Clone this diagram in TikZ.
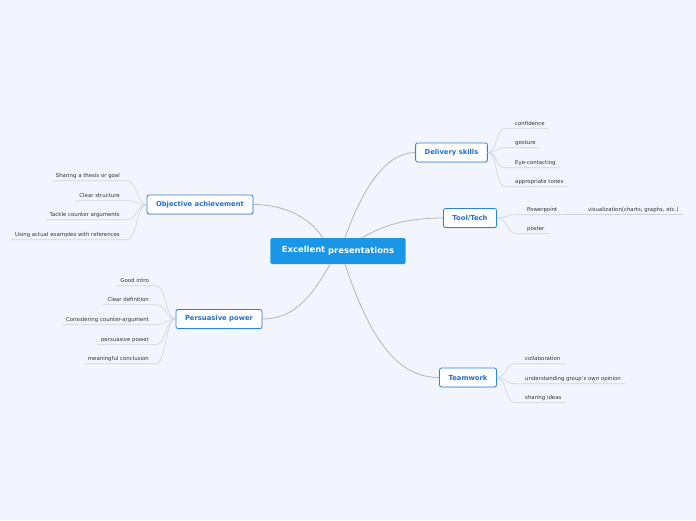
\documentclass[tikz,border=0pt]{standalone}
\usepackage{fontspec}
\setmainfont{DejaVu Sans}
\usetikzlibrary{shadows}

\definecolor{paper}{HTML}{F3F5FE}
\definecolor{hub}{HTML}{1A96E8}
\definecolor{rim}{HTML}{2A82DE}
\definecolor{ink}{HTML}{1F6FD2}
\definecolor{wire}{HTML}{B3B3BA}
\definecolor{twig}{HTML}{CFD2DB}

\begin{document}
\begin{tikzpicture}[x=1pt, y=-1pt,
    hubbox/.style={fill=hub, text=white, rounded corners=1.5pt, minimum height=26pt,
        inner xsep=11.5pt, font=\fontsize{8.4}{9}\selectfont\bfseries},
    branch/.style={draw=rim, line width=0.8pt, fill=white, text=ink, rounded corners=2pt,
        minimum height=19pt, inner xsep=9pt, font=\fontsize{6.8}{8}\selectfont\bfseries,
        drop shadow={shadow xshift=0.6pt, shadow yshift=-0.8pt, opacity=0.2}},
    leaf/.style={inner xsep=4pt, inner ysep=2.5pt, text height=4pt, text depth=1pt,
        text=black!80, font=\fontsize{5.4}{6}\selectfont},
    link/.style={draw=wire, line width=0.8pt},
    sprig/.style={draw=twig, line width=0.6pt}]

    % background and margins
    \fill[paper] (0,0) rectangle (696,520);
    \useasboundingbox (0,0) rectangle (696,520);

    % centre
    \node[hubbox] (ctr) at (338,251) {\raisebox{0.3pt}{Excellent} \raisebox{-0.5pt}{presentations}};

    % main topics
    \node[branch] (obj) at (200,204.5) {Objective achievement};
    \node[branch] (per) at (219,319) {Persuasive power};
    \node[branch] (del) at (451.5,152.5) {Delivery skills};
    \node[branch] (tool) at (470,218) {Tool/Tech};
    \node[branch] (team) at (468,377.5) {Teamwork};

    \draw[link] ([xshift=-15pt]ctr.north) .. controls (310,218) and (285,204.5) .. (obj.east);
    \draw[link] ([xshift=7pt]ctr.north) .. controls (362,190) and (385,152.5) .. (del.west);
    \draw[link] ([xshift=24pt]ctr.north) .. controls (385,224) and (410,218) .. (tool.west);
    \draw[link] ([xshift=-8pt]ctr.south) .. controls (310,300) and (292,319) .. (per.east);
    \draw[link] ([xshift=7pt]ctr.south) .. controls (372,345) and (400,377.5) .. (team.west);

    % Objective achievement
    \node[leaf, anchor=east] (o1) at (124,175.5) {Sharing a thesis or goal};
    \node[leaf, anchor=east] (o2) at (124,195.5) {Clear structure};
    \node[leaf, anchor=east] (o3) at (124,214.5) {Tackle counter arguments};
    \node[leaf, anchor=east] (o4) at (124,234.5) {Using actual examples with references};
    \foreach \n in {o1,o2,o3,o4}
        \draw[sprig] (obj.west) .. controls +(-10,0) and +(10,0) .. ([xshift=3pt]\n.south east) -- (\n.south west);

    % Persuasive power
    \node[leaf, anchor=east] (p1) at (153,280.5) {Good intro};
    \node[leaf, anchor=east] (p2) at (153,299.5) {Clear de\raisebox{-0.8pt}{finition}};
    \node[leaf, anchor=east] (p3) at (153,319.5) {Considering counter-argument};
    \node[leaf, anchor=east] (p4) at (153,339.5) {persuasive power};
    \node[leaf, anchor=east] (p5) at (153,358.5) {meaningful conclusion};
    \foreach \n in {p1,p2,p3,p4,p5}
        \draw[sprig] (per.west) .. controls +(-10,0) and +(10,0) .. ([xshift=3pt]\n.south east) -- (\n.south west);

    % Delivery skills
    \node[leaf, anchor=west] (d1) at (511,123.5) {confidence};
    \node[leaf, anchor=west] (d2) at (511,142.5) {gesture};
    \node[leaf, anchor=west] (d3) at (511,162.5) {Eye-contacting};
    \node[leaf, anchor=west] (d4) at (511,181.5) {appropriate tones};
    \foreach \n in {d1,d2,d3,d4}
        \draw[sprig] (del.east) .. controls +(10,0) and +(-10,0) .. ([xshift=-6pt]\n.south west) -- (\n.south east);

    % Tool/Tech
    \node[leaf, anchor=west] (t1) at (523,209.5) {Powerpoint};
    \node[leaf, anchor=west] (t2) at (523,228.5) {poster};
    \node[leaf, anchor=west] (t3) at (584,209.5) {visualization(charts, graphs, etc.)};
    \foreach \n in {t1,t2}
        \draw[sprig] (tool.east) .. controls +(10,0) and +(-10,0) .. ([xshift=-6pt]\n.south west) -- (\n.south east);
    \draw[sprig] (t1.south east) -- (t3.south west) -- (t3.south east);

    % Teamwork
    \node[leaf, anchor=west] (w1) at (521,358.5) {collaboration};
    \node[leaf, anchor=west] (w2) at (521,378.5) {understanding group's own opinion};
    \node[leaf, anchor=west] (w3) at (521,397.5) {sharing ideas};
    \foreach \n in {w1,w2,w3}
        \draw[sprig] (team.east) .. controls +(10,0) and +(-10,0) .. ([xshift=-6pt]\n.south west) -- (\n.south east);
\end{tikzpicture}
\end{document}
